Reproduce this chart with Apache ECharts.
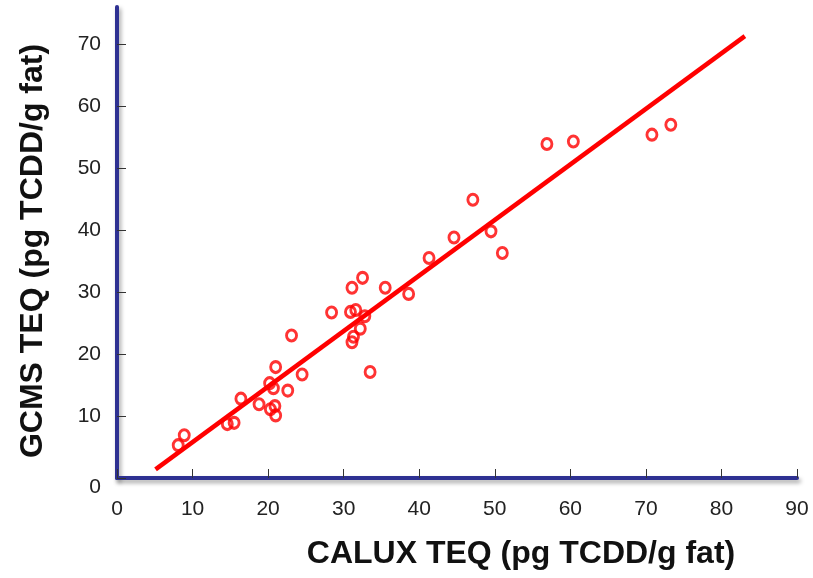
<!DOCTYPE html>
<html>
<head>
<meta charset="utf-8">
<script src="https://cdn.jsdelivr.net/npm/echarts@6/dist/echarts.min.js"></script>
<style>html,body{margin:0;padding:0;background:#fff;}#c{width:813px;height:578px;}</style>
</head>
<body>
<div id="c"></div>
<script>
// CALUX TEQ (x) vs GCMS TEQ (y)
var caluxValues = [8.1, 8.9, 14.6, 15.5, 16.4, 18.8, 20.3, 20.9, 21.0, 20.2, 20.7, 21.0, 22.6, 24.5, 23.1, 28.4, 31.1, 32.5, 30.9, 31.6, 32.8, 32.2, 31.3, 31.1, 33.5, 35.5, 38.6, 41.3, 44.6, 47.1, 49.5, 51.0, 56.9, 60.4, 70.8, 73.3];
var gcmsValues  = [5.3, 6.9, 8.7, 8.9, 12.8, 11.9, 11.1, 11.6, 10.1, 15.3, 14.5, 17.9, 14.1, 16.7, 23.0, 26.7, 30.7, 32.3, 26.8, 27.1, 26.1, 24.1, 22.8, 21.9, 17.1, 30.7, 29.7, 35.5, 38.8, 44.9, 39.8, 36.3, 53.9, 54.3, 55.4, 57.0];
// regression line end points
var fitLineX = [5.1, 83.1];
var fitLineY = [1.4, 71.3];
// tick labels
var xTicks = [0, 10, 20, 30, 40, 50, 60, 70, 80, 90];
var yTicks = [0, 10, 20, 30, 40, 50, 60, 70];
var xTitle = 'CALUX TEQ (pg TCDD/g fat)';
var yTitle = 'GCMS TEQ (pg TCDD/g fat)';

var points = caluxValues.map(function (x, i) { return [x, gcmsValues[i]]; });
var fitLine = fitLineX.map(function (x, i) { return [x, fitLineY[i]]; });

var axisLineStyle = {
  color: '#2E3192', width: 4,
  shadowColor: 'rgba(0,0,0,0.35)', shadowBlur: 4, shadowOffsetX: 2, shadowOffsetY: 3
};
var labelFont = { fontFamily: 'Liberation Sans, Arial, sans-serif', fontSize: 21, color: '#222' };
var nameFont = { fontFamily: 'Liberation Sans, Arial, sans-serif', fontSize: 32, fontWeight: 'bold', color: '#111' };

var chart = echarts.init(document.getElementById('c'), null, { renderer: 'canvas' });
chart.setOption({
  backgroundColor: '#fff',
  animation: false,
  grid: { left: 117, right: 16, top: 7, bottom: 100, containLabel: false, outerBoundsMode: 'none' },
  xAxis: {
    type: 'value', min: 0, max: 90, interval: 10,
    axisLine: { show: true, onZero: false, lineStyle: axisLineStyle },
    axisTick: { show: true, inside: true, length: 9, lineStyle: { color: '#333', width: 1 }, customValues: xTicks },
    axisLabel: Object.assign({ margin: 21, customValues: xTicks }, labelFont),
    splitLine: { show: false },
    name: xTitle, nameLocation: 'middle', nameGap: 60,
    nameTextStyle: Object.assign({ padding: [0, 0, 0, 128] }, nameFont)
  },
  yAxis: {
    type: 'value', min: 0, max: 76, interval: 10,
    axisLine: { show: true, onZero: false, lineStyle: axisLineStyle },
    axisTick: { show: true, inside: true, length: 9, lineStyle: { color: '#333', width: 1 }, customValues: yTicks },
    axisLabel: Object.assign({
      margin: 16, customValues: yTicks,
      formatter: function (v) { return v === 0 ? '{z|0}' : String(v); },
      rich: { z: Object.assign({ padding: [18, 0, 0, 0] }, labelFont) }
    }, labelFont),
    splitLine: { show: false },
    name: yTitle, nameLocation: 'middle', nameGap: 68, nameRotate: 90,
    nameTextStyle: Object.assign({ padding: [0, 17, 0, 0] }, nameFont)
  },
  series: [
    {
      type: 'line', data: fitLine, symbol: 'none', silent: true,
      lineStyle: { color: '#FF0000', width: 4.5 }, z: 2
    },
    {
      type: 'scatter', data: points, symbol: 'circle', symbolSize: [10, 11],
      itemStyle: { color: 'rgba(255,255,255,0)', borderColor: '#FF0000', borderWidth: 3 }, z: 3
    }
  ]
});
</script>
</body>
</html>
